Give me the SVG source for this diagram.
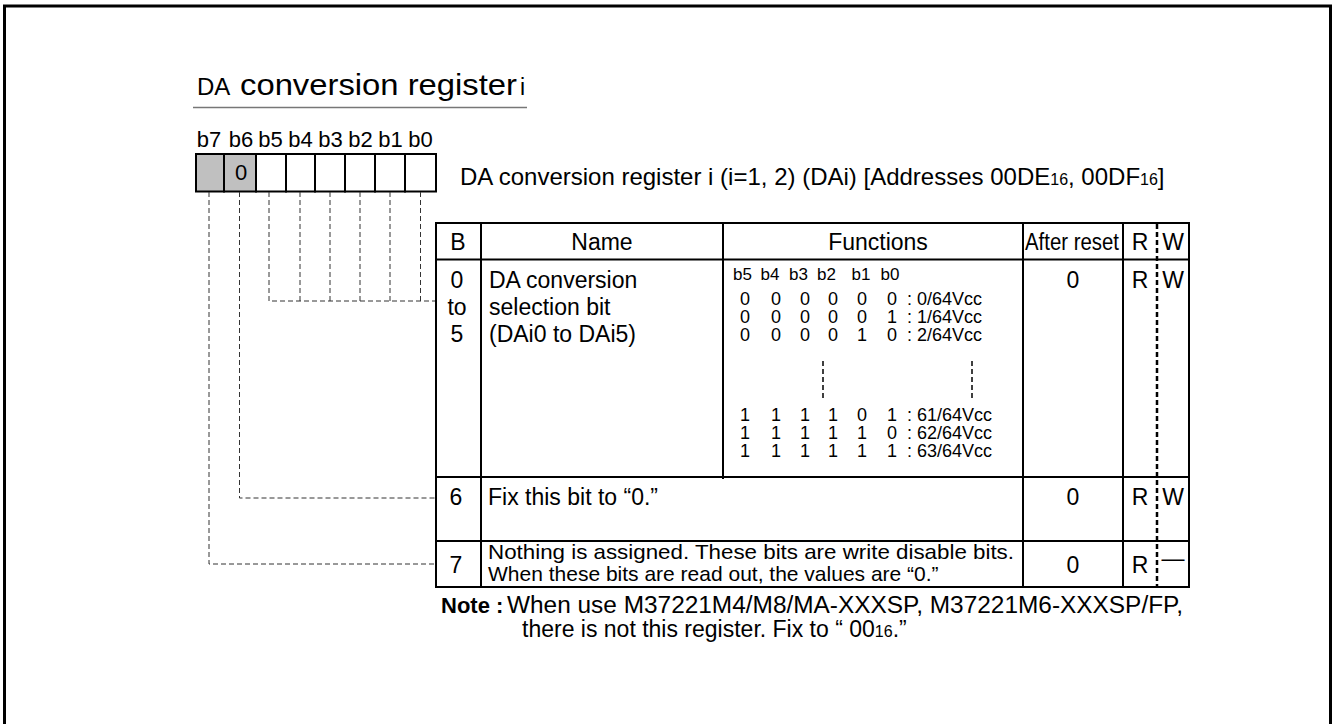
<svg xmlns="http://www.w3.org/2000/svg" width="1333" height="724" viewBox="0 0 1333 724">
<style>
text{font-family:"Liberation Sans",Arial,sans-serif;fill:#000}
.t{font-size:23px}
.s{font-size:21px}
.f{font-size:18px}
.fl{font-size:17px}
.c{text-anchor:middle}
.cell{fill:#fff;stroke:#000;stroke-width:2}
.g{fill:#c0c0c0}
.ln{stroke:#000;stroke-width:2;fill:none}
.dash{stroke:#333;stroke-width:1;stroke-dasharray:5 3;fill:none}
.rw{stroke:#000;stroke-width:2.5;stroke-dasharray:5 3;fill:none}
.mk{stroke:#000;stroke-width:1.5;stroke-dasharray:5 3;fill:none}
</style>
<rect x="0" y="0" width="1333" height="724" fill="#fff"/>
<rect id="frame" x="4.5" y="6" width="1326" height="740" fill="none" stroke="#000" stroke-width="3"/>

<g id="title">
<text x="197" y="95" font-size="24px">DA</text>
<text x="240" y="95" font-size="30px" textLength="277" lengthAdjust="spacingAndGlyphs">conversion register</text>
<text x="520" y="95" font-size="23px">i</text>
<line x1="193" y1="107.5" x2="527" y2="107.5" stroke="#777" stroke-width="1.5"/>
</g>

<g id="register">
<text x="209" y="147" class="c" font-size="22px">b7</text>
<text x="241" y="147" class="c" font-size="22px">b6</text>
<text x="270.5" y="147" class="c" font-size="22px">b5</text>
<text x="300.5" y="147" class="c" font-size="22px">b4</text>
<text x="330.5" y="147" class="c" font-size="22px">b3</text>
<text x="360.5" y="147" class="c" font-size="22px">b2</text>
<text x="390.5" y="147" class="c" font-size="22px">b1</text>
<text x="420.5" y="147" class="c" font-size="22px">b0</text>
<rect class="cell g" x="196" y="154" width="28" height="37.5"/>
<rect class="cell g" x="224" y="154" width="32" height="37.5"/>
<rect class="cell" x="256" y="154" width="30" height="37.5"/>
<rect class="cell" x="286" y="154" width="29" height="37.5"/>
<rect class="cell" x="315" y="154" width="30" height="37.5"/>
<rect class="cell" x="345" y="154" width="30" height="37.5"/>
<rect class="cell" x="375" y="154" width="30" height="37.5"/>
<rect class="cell" x="405" y="154" width="31" height="37.5"/>
<text x="241" y="180" class="c" font-size="22px">0</text>
<text x="460" y="185" font-size="24px">DA conversion register i (i=1, 2) (DAi) [Addresses 00DE<tspan font-size="16px">16</tspan>, 00DF<tspan font-size="16px">16</tspan>]</text>
</g>

<g id="connectors">
<polyline class="dash" points="209,192 209,564 436,564"/>
<polyline class="dash" points="239.5,192 239.5,498 436,498"/>
<polyline class="dash" points="269,192 269,301 436,301"/>
<line class="dash" x1="300" y1="192" x2="300" y2="301"/>
<line class="dash" x1="330" y1="192" x2="330" y2="301"/>
<line class="dash" x1="360" y1="192" x2="360" y2="301"/>
<line class="dash" x1="390" y1="192" x2="390" y2="301"/>
<line class="dash" x1="420.5" y1="192" x2="420.5" y2="301"/>
</g>

<g id="table">
<rect class="ln" x="436" y="223" width="753" height="364"/>
<line class="ln" x1="436" y1="259.5" x2="1189" y2="259.5"/>
<line class="ln" x1="436" y1="477" x2="1189" y2="477"/>
<line class="ln" x1="436" y1="541" x2="1189" y2="541"/>
<line class="ln" x1="481" y1="223" x2="481" y2="587"/>
<line class="ln" x1="723" y1="223" x2="723" y2="479"/>
<line class="ln" x1="1023" y1="223" x2="1023" y2="587"/>
<line class="ln" x1="1123" y1="223" x2="1123" y2="587"/>
<line class="rw" x1="1157" y1="224" x2="1157" y2="586"/>

<g id="header">
<text x="458" y="250" class="c t">B</text>
<text x="602" y="250" class="c t">Name</text>
<text x="878" y="250" class="c t">Functions</text>
<text x="1025" y="250" class="t" textLength="94" lengthAdjust="spacingAndGlyphs">After reset</text>
<text x="1140" y="250" class="c t">R</text>
<text x="1173" y="250" class="c t">W</text>
</g>

<g id="row0to5">
<text x="457" y="288" class="c t">0</text>
<text x="457" y="315" class="c t">to</text>
<text x="457" y="342" class="c t">5</text>
<text x="489" y="288" class="t">DA conversion</text>
<text x="489" y="315" class="t">selection bit</text>
<text x="489" y="342" class="t">(DAi0 to DAi5)</text>
<text x="742.5" y="280" class="c fl">b5</text>
<text x="770" y="280" class="c fl">b4</text>
<text x="798.5" y="280" class="c fl">b3</text>
<text x="826.5" y="280" class="c fl">b2</text>
<text x="861" y="280" class="c fl">b1</text>
<text x="890" y="280" class="c fl">b0</text>
<text y="305" class="f"><tspan x="740">0</tspan><tspan x="771">0</tspan><tspan x="800">0</tspan><tspan x="828">0</tspan><tspan x="857">0</tspan><tspan x="887">0</tspan><tspan x="907">: 0/64Vcc</tspan></text>
<text y="323" class="f"><tspan x="740">0</tspan><tspan x="771">0</tspan><tspan x="800">0</tspan><tspan x="828">0</tspan><tspan x="857">0</tspan><tspan x="887">1</tspan><tspan x="907">: 1/64Vcc</tspan></text>
<text y="341" class="f"><tspan x="740">0</tspan><tspan x="771">0</tspan><tspan x="800">0</tspan><tspan x="828">0</tspan><tspan x="857">1</tspan><tspan x="887">0</tspan><tspan x="907">: 2/64Vcc</tspan></text>
<text y="421" class="f"><tspan x="740">1</tspan><tspan x="771">1</tspan><tspan x="800">1</tspan><tspan x="828">1</tspan><tspan x="857">0</tspan><tspan x="887">1</tspan><tspan x="907">: 61/64Vcc</tspan></text>
<text y="439" class="f"><tspan x="740">1</tspan><tspan x="771">1</tspan><tspan x="800">1</tspan><tspan x="828">1</tspan><tspan x="857">1</tspan><tspan x="887">0</tspan><tspan x="907">: 62/64Vcc</tspan></text>
<text y="457" class="f"><tspan x="740">1</tspan><tspan x="771">1</tspan><tspan x="800">1</tspan><tspan x="828">1</tspan><tspan x="857">1</tspan><tspan x="887">1</tspan><tspan x="907">: 63/64Vcc</tspan></text>
<line class="mk" x1="823" y1="361" x2="823" y2="400"/>
<line class="mk" x1="972" y1="361" x2="972" y2="400"/>
<text x="1073" y="288" class="c t">0</text>
<text x="1140" y="288" class="c t">R</text>
<text x="1173" y="288" class="c t">W</text>
</g>

<g id="row6">
<text x="456" y="505" class="c t">6</text>
<text x="488" y="505" class="t">Fix this bit to “0.”</text>
<text x="1073" y="505" class="c t">0</text>
<text x="1140" y="505" class="c t">R</text>
<text x="1173" y="505" class="c t">W</text>
</g>

<g id="row7">
<text x="456" y="573" class="c t">7</text>
<text x="488" y="559" class="s" textLength="526" lengthAdjust="spacingAndGlyphs">Nothing is assigned. These bits are write disable bits.</text>
<text x="488" y="581" class="s">When these bits are read out, the values are “0.”</text>
<text x="1073" y="573" class="c t">0</text>
<text x="1140" y="573" class="c t">R</text>
<text x="1173" y="566" class="c t">—</text>
</g>
</g>

<g id="note">
<text x="441" y="613" font-size="22px" font-weight="bold">Note :</text>
<text x="507" y="613" class="t" textLength="676" lengthAdjust="spacingAndGlyphs">When use M37221M4/M8/MA-XXXSP, M37221M6-XXXSP/FP,</text>
<text x="522" y="637" class="t">there is not this register. Fix to “ 00<tspan font-size="16px">16</tspan>.”</text>
</g>
</svg>
